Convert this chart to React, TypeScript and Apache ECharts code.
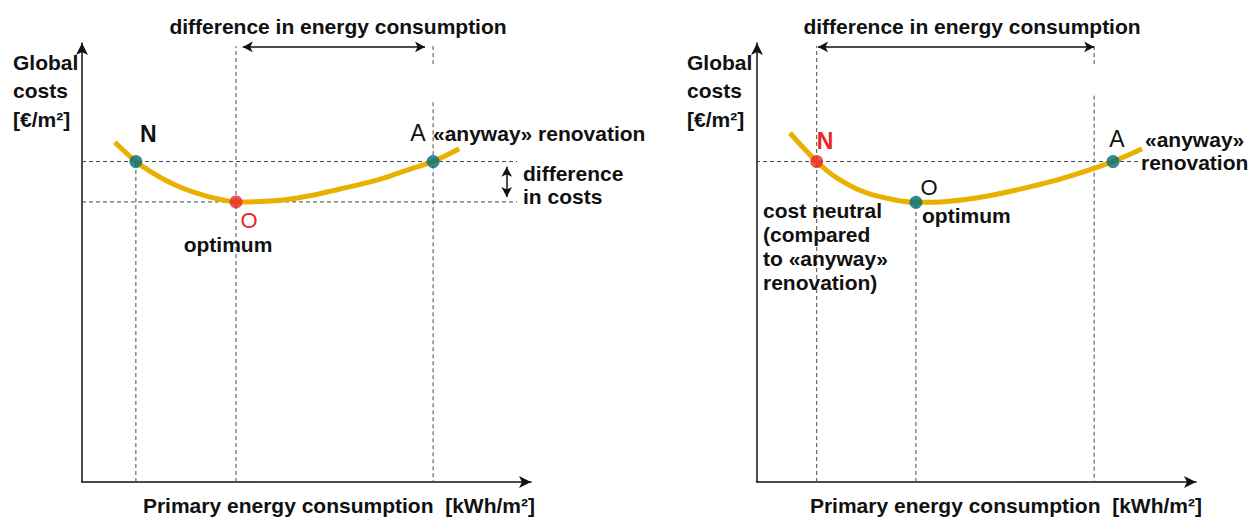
import React, { useEffect, useRef } from "react";
import * as echarts from "echarts";

const FONT = "'Liberation Sans', Arial, Helvetica, sans-serif";
const GOLD = "#e9b000";
const TEAL = "#006d78";
const RED = "#e8262c";
const GUIDE = "#4a4a4a";

// ---- Left panel data (x: primary energy consumption, y: global costs; arbitrary units 0..100)
const leftCurve: [number, number][] = [
  [7.3, 77.4], [9.6, 75.2], [12, 73], [15.1, 70.8], [18.5, 68.8], [21.8, 67.2], [25.2, 65.9],
  [28.5, 64.9], [31.2, 64.3], [34.3, 63.8], [39.6, 63.9], [45.2, 64.3], [50.8, 65.2],
  [55.2, 66.2], [63.5, 68.2], [68.6, 69.7], [72.6, 71.1], [78.2, 73], [84, 75.9],
];
const leftPoints = [
  { name: "N", x: 12, y: 73, color: TEAL },
  { name: "O", x: 34.3, y: 63.8, color: RED },
  { name: "A", x: 78.2, y: 73, color: TEAL },
];
const leftGuides: [number, number][][] = [
  [[0, 73], [96.9, 73]],
  [[0, 63.8], [96.9, 63.8]],
  [[12, 0], [12, 73]],
  [[34.3, 0], [34.3, 99.3]],
  [[78.2, 99.3], [78.2, 94.5]],
  [[78.2, 86.5], [78.2, 0]],
];
const leftEnergyArrow: [number, number][] = [[35.8, 99.1], [76.4, 99.1]];
const leftCostArrow: [number, number][] = [[94.6, 71.8], [94.6, 64.9]];

// ---- Right panel data
const rightCurve: [number, number][] = [
  [7.5, 79.5], [10.5, 76.2], [13.6, 73], [16.2, 70.7], [18.9, 68.8], [22.6, 66.8], [26.4, 65.4],
  [31.8, 64.2], [36.2, 63.7], [43.2, 63.9], [52.3, 65.1], [59.9, 66.7], [69.0, 69.0],
  [81.1, 73], [87.7, 75.9],
];
const rightPoints = [
  { name: "N", x: 13.6, y: 73, color: RED },
  { name: "O", x: 36.2, y: 63.7, color: TEAL },
  { name: "A", x: 81.1, y: 73, color: TEAL },
];
const rightGuides: [number, number][][] = [
  [[-5, 73], [87.2, 73]],
  [[13.6, 0], [13.6, 99.3]],
  [[36.2, 0], [36.2, 63.7]],
  [[76.8, 99.3], [76.8, 94.5]],
  [[76.8, 88], [76.8, 0]],
];
const rightEnergyArrow: [number, number][] = [[13.9, 99.1], [76.8, 99.1]];

// ---- Texts
const TITLE = "difference in energy consumption";
const Y_LABEL = "Global\ncosts\n[€/m²]";
const X_LABEL = "Primary energy consumption  [kWh/m²]";

function buildOption() {
  const axisLine = {
    show: true,
    onZero: false,
    symbol: ["none", "arrow"],
    symbolSize: [9, 12],
    lineStyle: { color: "#111", width: 1.5 },
  };
  const axisCommon = {
    type: "value",
    min: 0,
    max: 100,
    axisLine,
    axisTick: { show: false },
    axisLabel: { show: false },
    splitLine: { show: false },
  };

  const guideSeries = (gi: number, segs: [number, number][][]) =>
    segs.map((seg) => ({
      type: "line",
      xAxisIndex: gi,
      yAxisIndex: gi,
      data: seg,
      symbol: "none",
      clip: false,
      silent: true,
      z: 1,
      lineStyle: { color: GUIDE, width: 1, type: [4, 3] },
    }));

  const arrowLine = (seg: [number, number][]) => [{ coord: seg[0] }, { coord: seg[1] }];

  const curveSeries = (gi: number, data: [number, number][], arrows: [number, number][][]) => ({
    type: "line",
    xAxisIndex: gi,
    yAxisIndex: gi,
    data,
    smooth: 0.3,
    symbol: "none",
    clip: false,
    silent: true,
    z: 3,
    lineStyle: { color: GOLD, width: 5, cap: "butt" },
    markLine: {
      silent: true,
      symbol: ["arrow", "arrow"],
      symbolSize: [8, 10],
      label: { show: false },
      lineStyle: { color: "#111", width: 1.5, type: "solid" },
      data: arrows.map(arrowLine),
    },
  });

  const pointSeries = (gi: number, pts: { name: string; x: number; y: number; color: string }[]) => ({
    type: "scatter",
    xAxisIndex: gi,
    yAxisIndex: gi,
    symbolSize: 13,
    silent: true,
    z: 5,
    data: pts.map((p) => ({ name: p.name, value: [p.x, p.y], itemStyle: { color: p.color } })),
  });

  const t = (
    x: number,
    y: number,
    text: string,
    o: { size?: number; weight?: string; fill?: string; align?: string; lh?: number; vAlign?: string } = {}
  ) => ({
    type: "text",
    x,
    y,
    silent: true,
    z: 10,
    style: {
      text,
      fontFamily: FONT,
      fontSize: o.size ?? 21,
      fontWeight: o.weight ?? "bold",
      fill: o.fill ?? "#111",
      align: o.align ?? "left",
      verticalAlign: o.vAlign ?? "middle",
      lineHeight: o.lh,
    },
  });

  const graphics = [
    // left panel
    t(338, 26, TITLE, { align: "center" }),
    t(13, 48, Y_LABEL, { vAlign: "top", lh: 28.5 }),
    t(140, 134, "N", { size: 23 }),
    t(418, 133, "A", { size: 23, weight: "normal", align: "center" }),
    t(433, 133, "«anyway» renovation"),
    t(523, 173, "difference"),
    t(523, 196, "in costs"),
    t(249, 220, "O", { size: 22, weight: "normal", fill: RED, align: "center" }),
    t(228, 244, "optimum", { align: "center" }),
    t(535, 505, X_LABEL, { align: "right" }),
    // right panel
    t(972, 26, TITLE, { align: "center" }),
    t(687, 48, Y_LABEL, { vAlign: "top", lh: 28.5 }),
    t(825, 141, "N", { size: 23, fill: RED, align: "center" }),
    t(1117, 139, "A", { size: 23, weight: "normal", align: "center" }),
    t(1145, 139, "«anyway»"),
    t(1141, 162, "renovation"),
    t(929, 187, "O", { size: 22, weight: "normal", align: "center" }),
    t(922, 215, "optimum"),
    t(763, 198, "cost neutral\n(compared\nto «anyway»\nrenovation)", { vAlign: "top", lh: 24 }),
    t(1202, 505, X_LABEL, { align: "right" }),
  ];

  return {
    animation: false,
    backgroundColor: "#ffffff",
    grid: [
      { left: 82, top: 43, width: 449, height: 439 },
      { left: 757, top: 43, width: 439, height: 439 },
    ],
    xAxis: [0, 1].map((gi) => ({ ...axisCommon, gridIndex: gi })),
    yAxis: [0, 1].map((gi) => ({ ...axisCommon, gridIndex: gi })),
    series: [
      ...guideSeries(0, leftGuides),
      ...guideSeries(1, rightGuides),
      curveSeries(0, leftCurve, [leftEnergyArrow, leftCostArrow]),
      curveSeries(1, rightCurve, [rightEnergyArrow]),
      pointSeries(0, leftPoints),
      pointSeries(1, rightPoints),
    ],
    graphic: graphics,
  };
}

export default function App() {
  const ref = useRef<HTMLDivElement>(null);
  useEffect(() => {
    if (!ref.current) return;
    const chart = echarts.init(ref.current, undefined, { renderer: "svg" });
    chart.setOption(buildOption() as any);
    return () => chart.dispose();
  }, []);
  return (
    <div
      ref={ref}
      style={{ position: "absolute", left: 0, top: 0, width: 1258, height: 520, background: "#fff" }}
    />
  );
}
